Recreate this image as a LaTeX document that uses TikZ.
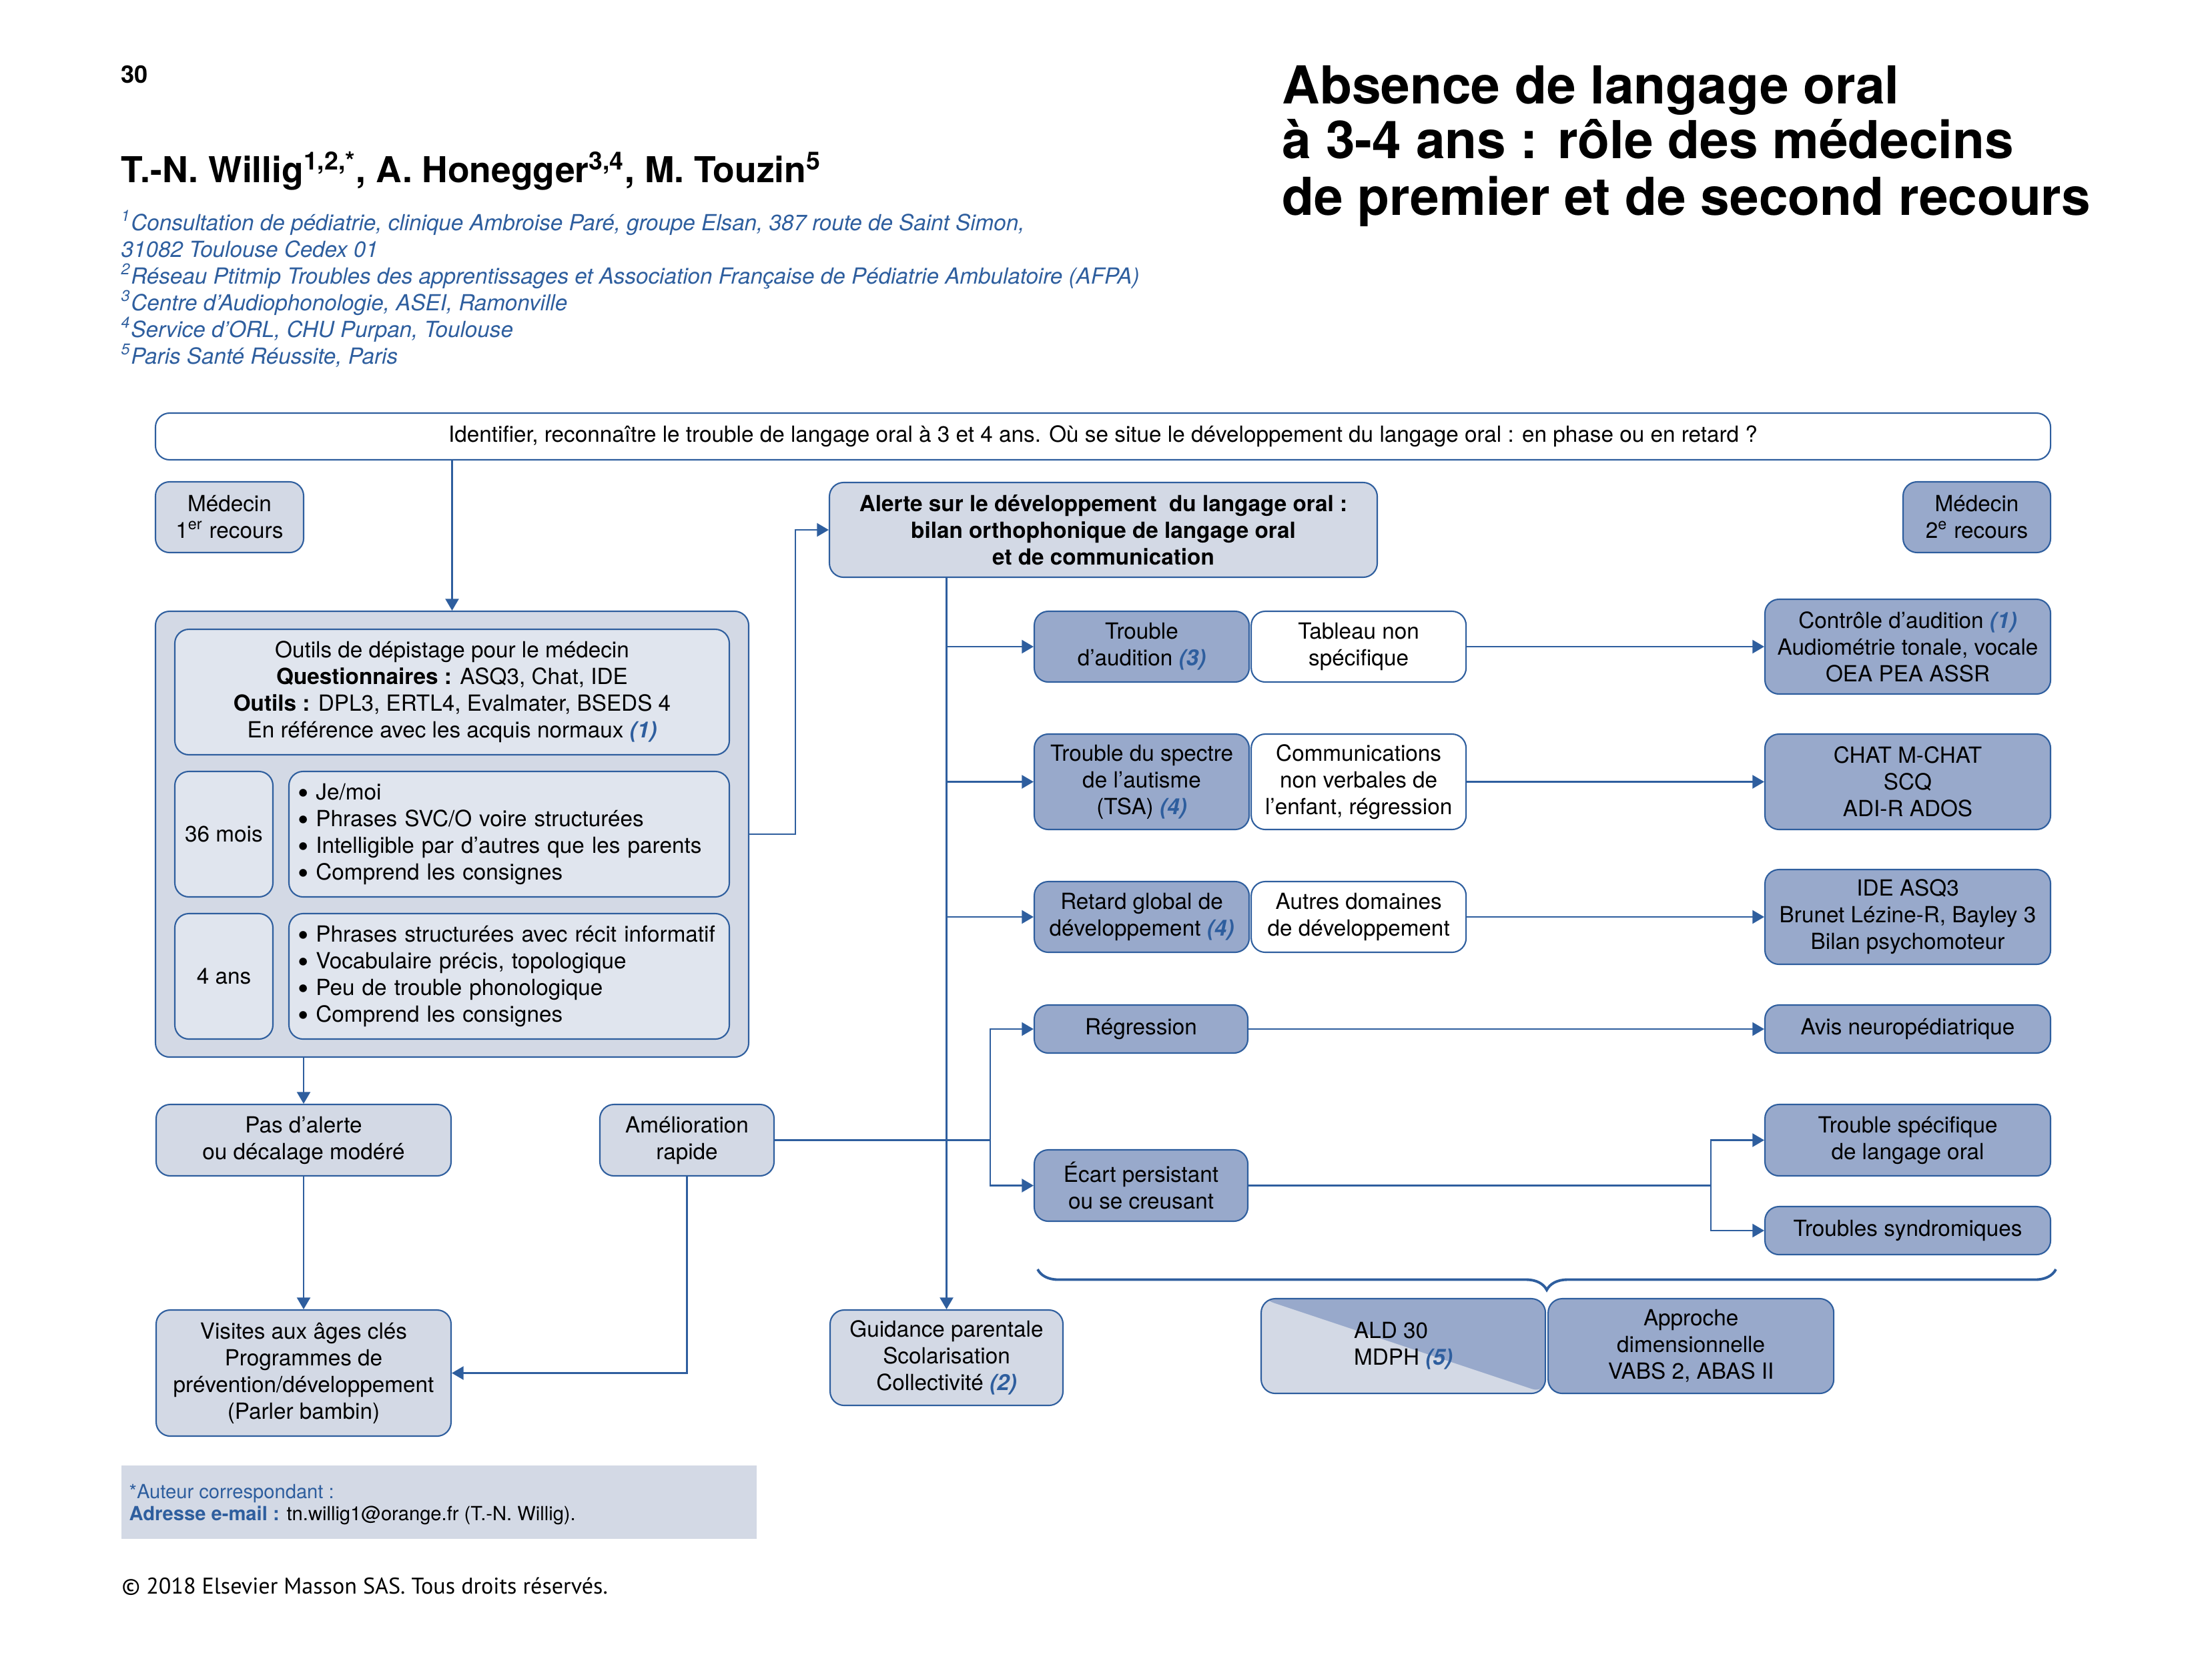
\documentclass[tikz,border=0pt]{standalone}
\usepackage{fontspec}
\usepackage{graphicx}
\setmainfont{TeX Gyre Heros}
\newfontfamily\copyfont{PT Sans}
\usetikzlibrary{positioning,calc,arrows.meta,decorations.pathreplacing}

\definecolor{dblue}{RGB}{46,94,158}
\definecolor{lfill}{RGB}{211,217,229}
\definecolor{ifill}{RGB}{224,229,238}
\definecolor{mfill}{RGB}{152,169,203}
\newcommand{\refnum}[1]{{\color{dblue}\bfseries\itshape(#1)}}
\newcommand{\bul}{\smash{\raisebox{-0.32ex}{\scalebox{1.4}{•}}}\ }

\begin{document}
\begin{tikzpicture}[x=1cm,y=-1cm,
  >={Triangle[length=5pt,width=5.7pt]},
  every node/.style={font=\fontsize{9.47}{11.4}\selectfont, align=center, inner sep=0pt},
  box/.style={draw=dblue, line width=0.6pt, rounded corners=6pt},
  lbox/.style={box, fill=lfill},
  ibox/.style={box, fill=ifill},
  mbox/.style={box, fill=mfill},
  wbox/.style={box, fill=white},
  affil/.style={anchor=base west, font=\fontsize{9.45}{11}\selectfont\itshape, text=dblue},
  titleline/.style={anchor=base west, font=\fontsize{22.3}{24}\selectfont\bfseries},
  link/.style={draw=dblue, line width=0.6pt}]
\useasboundingbox (0,0) rectangle (33.15,24.88);

% header
\node (pg) [anchor=base west, font=\fontsize{10.3}{12}\selectfont\bfseries] at (1.81,1.24) {30};
\node (auth) [anchor=base west, font=\fontsize{15.2}{18}\selectfont\bfseries] at (1.81,2.73)
  {T.-N. Willig\textsuperscript{1,2,*}, A. Honegger\textsuperscript{3,4}, M. Touzin\textsuperscript{5}};
\node (af1) [affil] at (1.81,3.45)
  {\textsuperscript{1}Consultation de pédiatrie, clinique Ambroise Paré, groupe Elsan, 387 route de Saint Simon,};
\node (af1b) [affil] at (1.81,3.85) {31082 Toulouse Cedex 01};
\node (af2) [affil] at (1.81,4.25)
  {\textsuperscript{2}Réseau Ptitmip Troubles des apprentissages et Association Française de Pédiatrie Ambulatoire (AFPA)};
\node (af3) [affil] at (1.81,4.65) {\textsuperscript{3}Centre d’Audiophonologie, ASEI, Ramonville};
\node (af4) [affil] at (1.81,5.05) {\textsuperscript{4}Service d’ORL, CHU Purpan, Toulouse};
\node (af5) [affil] at (1.81,5.45) {\textsuperscript{5}Paris Santé Réussite, Paris};
\node (ti1) [titleline] at (19.21,1.55) {Absence de langage oral};
\node (ti2) [titleline] at (19.21,2.37) {à 3-4 ans : rôle des médecins};
\node (ti3) [titleline] at (19.21,3.22) {de premier et de second recours};

% top row
\node (top) [wbox, minimum width=28.40cm, minimum height=0.70cm] at (16.53,6.54)
  {Identifier, reconnaître le trouble de langage oral à 3 et 4 ans. Où se situe le développement du langage oral : en phase ou en retard ?};
\node (med1) [lbox, minimum width=2.22cm, minimum height=1.06cm] at (3.44,7.75) {Médecin\\1\textsuperscript{er} recours};
\node (med2) [mbox, minimum width=2.21cm, minimum height=1.06cm] at (29.625,7.75) {Médecin\\2\textsuperscript{e} recours};

% screening panel
\node (pan) [lbox, minimum width=8.89cm, minimum height=6.68cm] at (6.775,12.50) {};
\node (outils) [ibox, minimum width=8.31cm, minimum height=1.88cm] at (6.775,10.37)
  {Outils de dépistage pour le médecin\\
   \textbf{Questionnaires :} ASQ3, Chat, IDE\\
   \textbf{Outils :} DPL3, ERTL4, Evalmater, BSEDS 4\\
   En référence avec les acquis normaux \refnum{1}};
\node (m36) [ibox, minimum width=1.47cm, minimum height=1.88cm] at (3.355,12.50) {36 mois};
\node (b36) [ibox, minimum height=1.88cm, text width=6.34cm, inner xsep=0.13cm, align=left] at (7.63,12.50)
  {\bul Je/moi\\
   \bul Phrases SVC/O voire structurées\\
   \bul Intelligible par d’autres que les parents\\
   \bul Comprend les consignes};
\node (a4) [ibox, minimum width=1.47cm, minimum height=1.88cm] at (3.355,14.63) {4 ans};
\node (b4) [ibox, minimum height=1.88cm, text width=6.34cm, inner xsep=0.13cm, align=left] at (7.63,14.63)
  {\bul Phrases structurées avec récit informatif\\
   \bul Vocabulaire précis, topologique\\
   \bul Peu de trouble phonologique\\
   \bul Comprend les consignes};

% alert and diagnoses
\node (alerte) [lbox, minimum width=8.21cm, minimum height=1.42cm, font=\fontsize{9.47}{11.4}\selectfont\bfseries] at (16.535,7.94)
  {Alerte sur le développement~ du langage oral :\\bilan orthophonique de langage oral\\et de communication};
\node (aud) [mbox, minimum width=3.22cm, minimum height=1.06cm] at (17.11,9.69) {Trouble\\d’audition \refnum{3}};
\node (tab) [wbox, minimum width=3.22cm, minimum height=1.06cm, right=0.01cm of aud] {Tableau non\\spécifique};
\node (tsa) [mbox, minimum width=3.22cm, minimum height=1.43cm] at (17.11,11.715) {Trouble du spectre\\de l’autisme\\(TSA) \refnum{4}};
\node (comm) [wbox, minimum width=3.22cm, minimum height=1.43cm, right=0.01cm of tsa] {Communications\\non verbales de\\l’enfant, régression};
\node (ret) [mbox, minimum width=3.22cm, minimum height=1.06cm] at (17.11,13.74) {Retard global de\\développement \refnum{4}};
\node (aut) [wbox, minimum width=3.22cm, minimum height=1.06cm, right=0.01cm of ret] {Autres domaines\\de développement};
\node (reg) [mbox, minimum width=3.20cm, minimum height=0.72cm] at (17.10,15.42) {Régression};
\node (ecart) [mbox, minimum width=3.20cm, minimum height=1.07cm] at (17.10,17.765) {Écart persistant\\ou se creusant};

% second-line tools
\node (ctrl) [mbox, minimum width=4.28cm, minimum height=1.42cm] at (28.59,9.69)
  {Contrôle d’audition \refnum{1}\\Audiométrie tonale, vocale\\OEA PEA ASSR};
\node (chat) [mbox, minimum width=4.28cm, minimum height=1.43cm] at (28.59,11.715) {CHAT M-CHAT\\SCQ\\ADI-R ADOS};
\node (ide) [mbox, minimum width=4.28cm, minimum height=1.42cm] at (28.59,13.74) {IDE ASQ3\\Brunet Lézine-R, Bayley 3\\Bilan psychomoteur};
\node (avis) [mbox, minimum width=4.28cm, minimum height=0.72cm] at (28.59,15.42) {Avis neuropédiatrique};
\node (tsp) [mbox, minimum width=4.28cm, minimum height=1.07cm] at (28.59,17.085) {Trouble spécifique\\de langage oral};
\node (syn) [mbox, minimum width=4.28cm, minimum height=0.72cm] at (28.59,18.44) {Troubles syndromiques};

% bottom row
\node (pas) [lbox, minimum width=4.42cm, minimum height=1.07cm] at (4.55,17.085) {Pas d’alerte\\ou décalage modéré};
\node (amel) [lbox, minimum width=2.61cm, minimum height=1.07cm] at (10.295,17.085) {Amélioration\\rapide};
\node (vis) [lbox, minimum width=4.42cm, minimum height=1.89cm] at (4.55,20.575)
  {Visites aux âges clés\\Programmes de\\prévention/développement\\(Parler bambin)};
\node (guid) [lbox, minimum width=3.49cm, minimum height=1.43cm] at (14.185,20.345)
  {Guidance parentale\\Scolarisation\\Collectivité \refnum{2}};
\node (ald) [lbox, minimum width=4.26cm, minimum height=1.42cm, align=left,
  path picture={\fill[mfill] (path picture bounding box.north west) -- (path picture bounding box.north east)
    -- (path picture bounding box.south east) -- cycle;}] at (21.03,20.17) {ALD 30\\MDPH \refnum{5}};
\node (appr) [mbox, minimum width=4.28cm, minimum height=1.42cm, right=0.02cm of ald] {Approche\\dimensionnelle\\VABS 2, ABAS II};

\coordinate (bl) at (15.55,19.02);
\coordinate (br) at (30.81,19.02);
\draw [dblue, line width=1.1pt, decorate, decoration={brace, mirror, amplitude=0.31cm}] (bl) -- (br);

% connectors
\draw [link, ->] (top.south -| pan.north) -- (pan.north);
\draw [link, ->] (pan.east) -- ++(0.69,0) |- (alerte.west);
\draw [link, ->] (alerte.south -| guid.north) -- (guid.north);
\draw [link, ->] (aud.west -| guid.north) -- (aud.west);
\draw [link, ->] (tsa.west -| guid.north) -- (tsa.west);
\draw [link, ->] (ret.west -| guid.north) -- (ret.west);
\draw [link, ->] (tab) -- (ctrl);
\draw [link, ->] (comm) -- (chat);
\draw [link, ->] (aut) -- (ide);
\draw [link, ->] (reg) -- (avis);

\coordinate (amj) at (14.84,17.085);
\draw [link] (amel.east) -- (amj);
\draw [link, ->] (amj) |- (reg.west);
\draw [link, ->] (amj) |- (ecart.west);

\coordinate (ecj) at (25.64,17.765);
\draw [link] (ecart.east) -- (ecj);
\draw [link, ->] (ecj) |- (tsp.west);
\draw [link, ->] (ecj) |- (syn.west);

\draw [link, ->] (pan.south -| pas.north) -- (pas.north);
\draw [link, ->] (pas) -- (vis);
\draw [link, ->] (amel.south) |- (vis.east);

% footer
\node (mailbox) [fill=lfill, minimum width=9.52cm, minimum height=1.10cm] at (6.58,22.51) {};
\node (mail1) [anchor=base west, font=\fontsize{8.3}{10}\selectfont, text=dblue] at (1.93,22.45) {*Auteur correspondant :};
\node (mail2) [anchor=base west, font=\fontsize{8.3}{10}\selectfont] at (1.93,22.78)
  {{\color{dblue}\bfseries Adresse e-mail :} tn.willig1@orange.fr (T.-N. Willig).};
\node (copy) [anchor=base west, font=\copyfont\fontsize{9.7}{11}\selectfont] at (1.82,23.88)
  {© 2018 Elsevier Masson SAS. Tous droits réservés.};
\end{tikzpicture}
\end{document}
